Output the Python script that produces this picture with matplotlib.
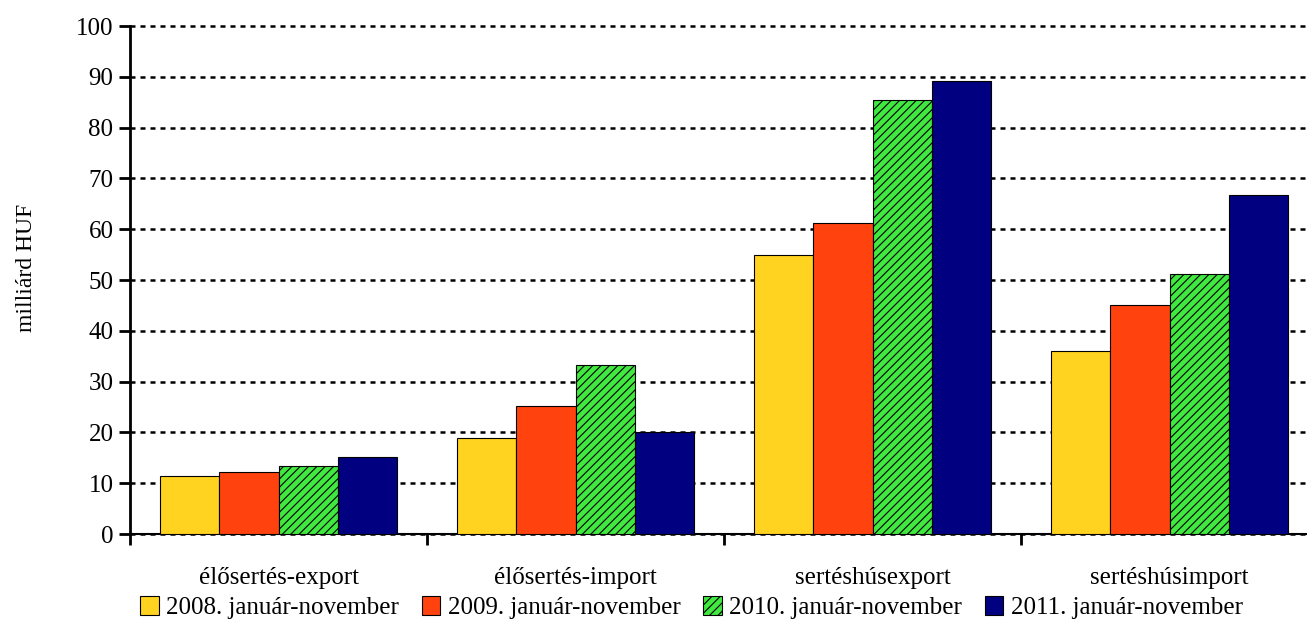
import matplotlib.pyplot as plt
import numpy as np

plt.rcParams['font.family'] = ['Liberation Serif', 'DejaVu Serif']
plt.rcParams['hatch.linewidth'] = 0.8

# kategóriák és évek
categories = ['élősertés-export', 'élősertés-import', 'sertéshúsexport', 'sertéshúsimport']
series_labels = ['2008. január-november', '2009. január-november',
                 '2010. január-november', '2011. január-november']

v2008 = [11.4, 18.9, 54.9, 36.0]
v2009 = [12.2, 25.2, 61.2, 45.1]
v2010 = [13.4, 33.3, 85.4, 51.2]
v2011 = [15.2, 20.1, 89.2, 66.7]

values = [v2008, v2009, v2010, v2011]
colors = ['#FFD320', '#FF420E', '#40E840', '#000080']
hatches = [None, None, '////', None]

fig = plt.figure(figsize=(13.07, 6.24), dpi=100)
ax = fig.add_axes([0.0995, 0.1442, 0.909, 0.8141])

x = np.arange(len(categories))
w = 0.2
for i, vals in enumerate(values):
    ax.bar(x - 0.3 + i * w, vals, width=w, color=colors[i], edgecolor='black',
           linewidth=0.8, hatch=hatches[i], label=series_labels[i], zorder=3)

ax.set_xlim(-0.5, 3.5)
ax.set_ylim(0, 100)
ax.set_yticks(range(0, 101, 10))
ax.yaxis.grid(True, color='black', linestyle=(0, (2, 2)), linewidth=1.8, zorder=0)
for gl in ax.get_ygridlines():
    gl.set_clip_on(False)

# fő tick a kategóriahatárokon, felirat középen
ax.set_xticks([-0.5, 0.5, 1.5, 2.5])
ax.set_xticklabels([])
ax.set_xticks(x, minor=True)
ax.set_xticklabels(categories, minor=True)
ax.tick_params(axis='x', which='minor', length=0, labelsize=18, pad=24)
ax.tick_params(axis='x', which='major', length=8, width=2, direction='out')
ax.tick_params(axis='y', length=8, width=2, labelsize=18, direction='out', pad=4)

for s in ['top', 'right']:
    ax.spines[s].set_visible(False)
ax.spines['left'].set_linewidth(2)
ax.spines['bottom'].set_linewidth(1.5)

fig.text(0.02, 0.57, 'milliárd HUF', rotation=90, ha='center', va='center', fontsize=17)

fig.legend(loc='center', bbox_to_anchor=(0.529, 0.026), ncol=4, frameon=False,
           fontsize=18, handlelength=0.75, handleheight=0.75, handletextpad=0.3,
           columnspacing=0.9)

fig.savefig('out.png', dpi=100)
